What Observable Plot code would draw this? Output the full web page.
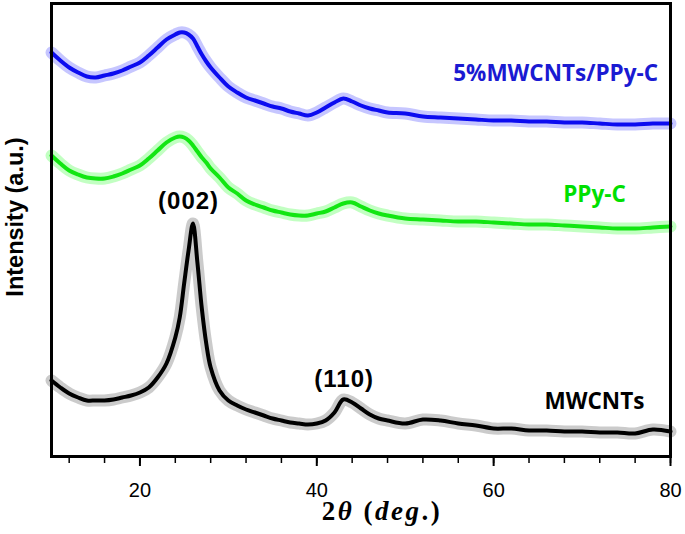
<!DOCTYPE html>
<html><head><meta charset="utf-8">
<script src="https://cdn.jsdelivr.net/npm/d3@7"></script>
<script src="https://cdn.jsdelivr.net/npm/@observablehq/plot@0.6"></script>
<style>body{margin:0;background:#fff} svg{display:block}</style>
</head><body><div id="chart"></div>
<script>
// 2θ positions (deg.)
const twoTheta = [10,11,12,13,14,15,16,17,18,19,20,21,22,23,24,24.5,25,25.5,26,26.5,27,27.5,28,29,30,31,32,33,34,35,36,37,38,39,40,41,42,43,44,45,46,47,48,50,52,54,56,58,60,62,64,66,68,70,72,74,76,78,80];
// Intensities (a.u., stacked as in the figure)
const mwcnts = [76,69,63,59,56,56,56,57,59,61,64,69,79,93,119,139,173,206,233,194,148,113,89,66,56,51,47,44,41,38,36,34,33,32,33,36,44,57,54,48,42,38,36,33,37,36,33,31,28,28,26,26,25,25,24,24,23,27,25];
const ppyC = [301,293,286,282,279,278,278,280,283,287,291,298,306,314,319,320,319,316,311,305,299,294,288,279,269,263,256,252,249,246,244,242,241,241,243,245,249,253,254,250,246,243,241,238,237,236,235,235,234,233,232,232,231,230,229,228,228,229,230];
const composite = [404,396,389,384,380,379,381,383,386,390,394,401,409,417,422,424,424,422,418,410,402,395,389,379,370,364,359,356,353,350,348,345,343,341,344,349,354,358,355,351,348,346,344,343,340,339,338,337,336,336,335,335,334,334,333,332,332,333,333];
const seriesNames = ["5%MWCNTs/PPy-C", "PPy-C", "MWCNTs"];
const peakLabels = ["(002)", "(110)"];
const majorTicks = [20,40,60,80];
const minorTicks = [12,16,20,24,28,32,36,40,44,48,52,56,60,64,68,72,76,80];

const seriesValues = [composite, ppyC, mwcnts];
const rows = [];
seriesNames.forEach((name, s) => seriesValues[s].forEach((v, i) => rows.push({series: name, theta: twoTheta[i], intensity: v})));

const lineColors = ["#0c0cf0", "#12e612", "#000000"];
const bandColors = ["#5c5cff", "#50ff50", "#6a6a6a"];
const labelFont = "'Open Sans', sans-serif";

const chart = Plot.plot({
  width: 685, height: 534,
  marginTop: 3, marginBottom: 78, marginLeft: 51, marginRight: 15,
  style: {fontFamily: "'Liberation Sans', Arial, sans-serif", fontSize: "20px", background: "#fff"},
  x: {domain: [10, 80]},
  y: {domain: [0, 453], axis: null},
  color: {domain: seriesNames, range: bandColors},
  marks: [
    Plot.line(rows, {x: "theta", y: "intensity", z: "series", stroke: "series", strokeWidth: 12, strokeOpacity: 0.35, curve: "catmull-rom"}),
    Plot.line(rows, {x: "theta", y: "intensity", z: "series", stroke: d => lineColors[seriesNames.indexOf(d.series)], strokeWidth: 4, curve: "catmull-rom"}),
    Plot.axisX({ticks: minorTicks, tickSize: 7, tickFormat: () => "", label: null, strokeWidth: 1.5}),
    Plot.axisX({ticks: majorTicks, tickSize: 10, tickPadding: 16, label: null, strokeWidth: 2, fontSize: 20, tickFormat: d => String(d)}),
    Plot.frame({stroke: "#000", strokeWidth: 3}),
    Plot.text([seriesNames[0]], {x: 78.6, y: 376, text: d => d, textAnchor: "end", lineAnchor: "bottom", fill: "#1a1ad2", fontWeight: "bold", fontSize: 22.5, fontFamily: labelFont}),
    Plot.text([seriesNames[1]], {x: 71.4, y: 255, text: d => d, lineAnchor: "bottom", fill: "#00e000", fontWeight: "bold", fontSize: 22.5, fontFamily: labelFont}),
    Plot.text([seriesNames[2]], {x: 71.4, y: 48, text: d => d, lineAnchor: "bottom", fill: "#000", fontWeight: "bold", fontSize: 22.5, fontFamily: labelFont}),
    Plot.text([peakLabels[0]], {x: 25.5, y: 248, text: d => d, lineAnchor: "bottom", fill: "#000", fontWeight: "bold", fontSize: 24, fontFamily: "'Liberation Sans', Arial, sans-serif"}),
    Plot.text([peakLabels[1]], {x: 43.1, y: 70, text: d => d, lineAnchor: "bottom", fill: "#000", fontWeight: "bold", fontSize: 24, fontFamily: "'Liberation Sans', Arial, sans-serif"}),
    Plot.text(["Intensity (a.u.)"], {frameAnchor: "left", textAnchor: "middle", rotate: -90, dx: -36, dy: -13, text: d => d, fontWeight: "bold", fontSize: 23.5, fill: "#000"}),
    Plot.text(["2θ (deg.)"], {frameAnchor: "bottom", dx: 21, dy: 63, text: d => d, fontWeight: "bold", fontSize: 27, fill: "#000", fontFamily: "'Liberation Serif', serif"})
  ]
});
document.getElementById("chart").appendChild(chart);

// letter spacing on peak labels and mixed styling for the x label
d3.select(chart).selectAll("text").each(function() {
  const t = d3.select(this);
  const s = this.textContent;
  if (s === "(002)" || s === "(110)") t.attr("letter-spacing", "1px");
  if (s === "2θ (deg.)") {
    t.text(null).attr("letter-spacing", "2.5px");
    t.append("tspan").text("2");
    t.append("tspan").attr("font-style", "italic").text("θ");
    t.append("tspan").text(" (");
    t.append("tspan").attr("font-style", "italic").text("deg");
    t.append("tspan").text(".)");
  }
});
</script>
</body></html>
